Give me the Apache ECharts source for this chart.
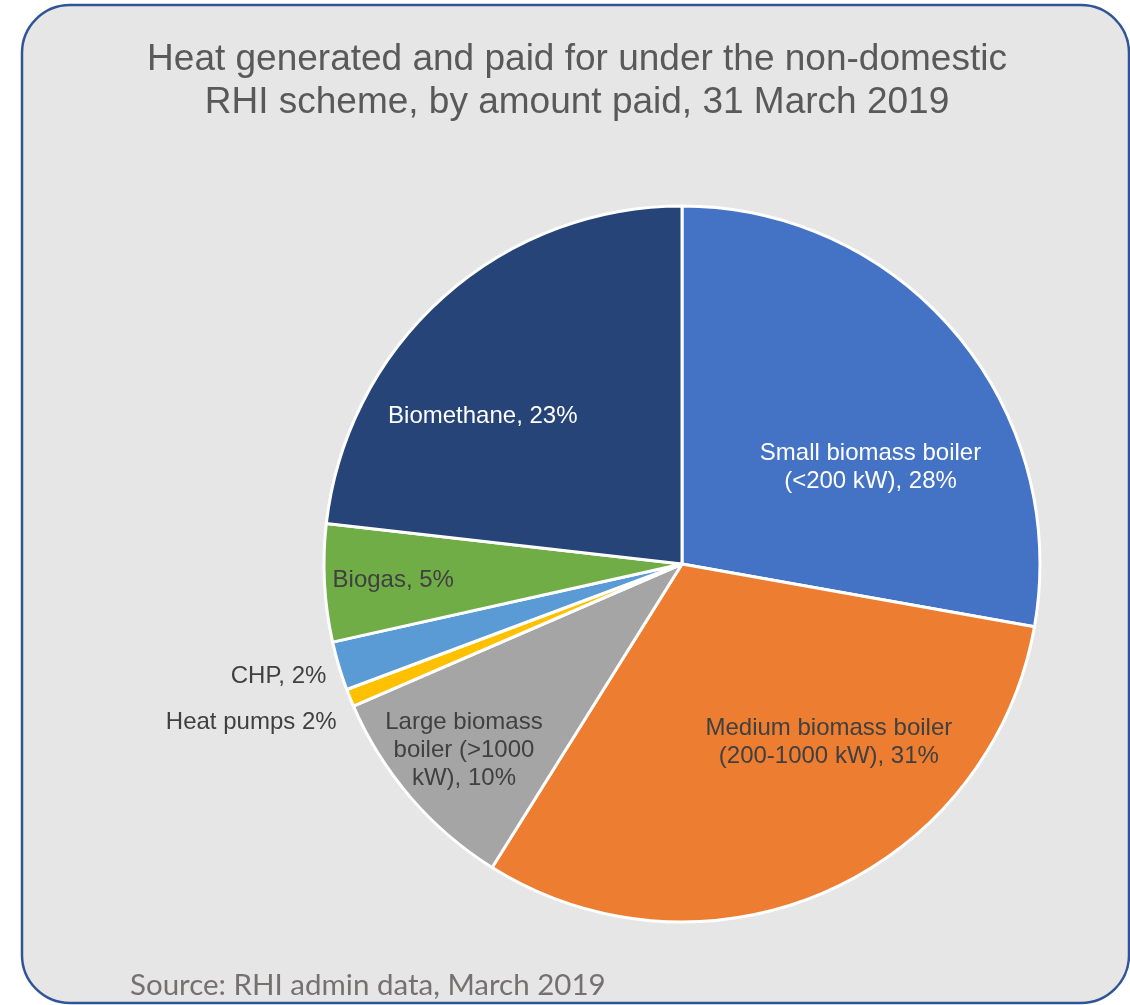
<!DOCTYPE html>
<html>
<head>
<meta charset="utf-8">
<script src="https://cdn.jsdelivr.net/npm/echarts@6/dist/echarts.min.js"></script>
<style>
html,body{margin:0;padding:0;background:#ffffff;}
#chart{width:1130px;height:1005px;}
</style>
</head>
<body>
<div id="chart"></div>
<script>
// ---- data ----
const categories = ["Small biomass boiler (<200 kW)", "Medium biomass boiler (200-1000 kW)", "Large biomass boiler (>1000 kW)", "Heat pumps", "CHP", "Biogas", "Biomethane"];
const values = [27.8, 31.1, 9.6, 0.8, 2.2, 5.3, 23.2];
const labelTexts = ["Small biomass boiler\n(<200 kW), 28%", "Medium biomass boiler\n(200-1000 kW), 31%", "Large biomass\nboiler (>1000\nkW), 10%", "Heat pumps 2%", "CHP, 2%", "Biogas, 5%", "Biomethane, 23%"];
const titleLines = ["Heat generated and paid for under the non-domestic", "RHI scheme, by amount paid, 31 March 2019"];
const sourceText = "Source: RHI admin data, March 2019";

// ---- styles / layout ----
const colors = ["#4472c4", "#ed7d31", "#a5a5a5", "#ffc000", "#5b9bd5", "#70ad47", "#264478"];
const labelColors = ["#ffffff", "#404040", "#404040", "#404040", "#404040", "#404040", "#ffffff"];
const labelNudge = [[49, 20], [73, 12], [-80, 68], [-262, 90], [-229, 61], [-107, 7], [-78, -12]];

const chart = echarts.init(document.getElementById('chart'), null, {renderer: 'canvas'});
const option = {
  animation: false,
  backgroundColor: '#ffffff',
  graphic: [
    {type: 'rect', z: -10, shape: {x: 22, y: 5, width: 1107, height: 998, r: 48},
     style: {fill: '#e6e6e6', stroke: '#2f5597', lineWidth: 2.5}},
    {type: 'text', x: 577, y: 38, z: 10,
     style: {text: titleLines.join('\n'), fill: '#595959', font: '37px "Liberation Sans", Arial, sans-serif', textAlign: 'center', textVerticalAlign: 'top', lineHeight: 43}},
    {type: 'text', x: 130, y: 970, z: 10,
     style: {text: sourceText, fill: '#767171', font: '29.5px Lato, "Open Sans", sans-serif', textVerticalAlign: 'top'}}
  ],
  series: [{
    type: 'pie',
    center: [682, 564],
    radius: [0, 358],
    startAngle: 90,
    clockwise: true,
    avoidLabelOverlap: false,
    itemStyle: {borderColor: '#ffffff', borderWidth: 3},
    label: {
      show: true, position: 'inside',
      fontFamily: '"Liberation Sans", Arial, sans-serif', fontSize: 24, lineHeight: 28,
      align: 'center'
    },
    labelLine: {show: false},
    labelLayout: function (p) {
      const n = labelNudge[p.dataIndex];
      return {dx: n[0], dy: n[1]};
    },
    data: categories.map((c, i) => ({
      name: c, value: values[i],
      itemStyle: {color: colors[i]},
      label: {formatter: labelTexts[i], color: labelColors[i]}
    }))
  }]
};
chart.setOption(option);
</script>
</body>
</html>
